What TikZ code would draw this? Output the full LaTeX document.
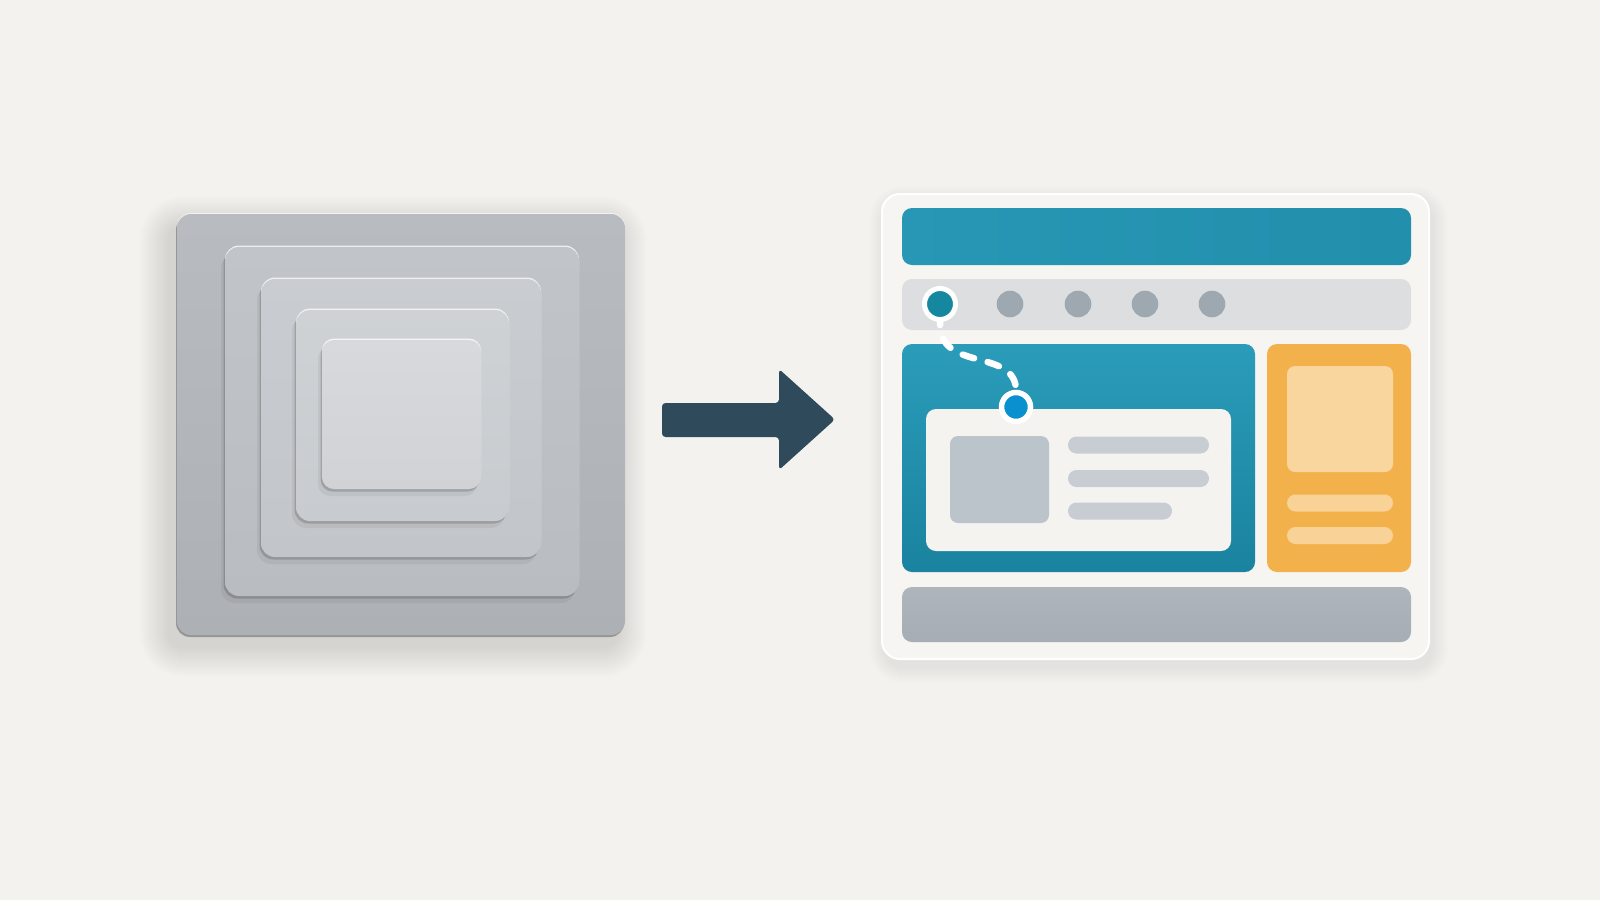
\documentclass[tikz,border=0pt]{standalone}
\usetikzlibrary{shadows}
\definecolor{bgc}{HTML}{F3F2EE}
\definecolor{s1}{HTML}{B8BCC1}
\definecolor{s1b}{HTML}{ADB1B6}
\definecolor{s2}{HTML}{C1C4C8}
\definecolor{s2b}{HTML}{B9BDC1}
\definecolor{s3}{HTML}{C9CCD0}
\definecolor{s3b}{HTML}{C2C5C9}
\definecolor{s4}{HTML}{CFD2D5}
\definecolor{s4b}{HTML}{C8CBCF}
\definecolor{s5}{HTML}{D7D9DC}
\definecolor{s5b}{HTML}{D0D2D5}
\definecolor{arrowc}{HTML}{2F4B5B}
\definecolor{panelc}{HTML}{F6F5F2}
\definecolor{teala}{HTML}{2A9CBA}
\definecolor{tealb}{HTML}{1A839F}
\definecolor{hdra}{HTML}{2797B5}
\definecolor{hdrb}{HTML}{228FAC}
\definecolor{navc}{HTML}{DCDEE0}
\definecolor{dotc}{HTML}{9DA8B0}
\definecolor{dot1c}{HTML}{15879F}
\definecolor{dot2c}{HTML}{0A8FCF}
\definecolor{orangec}{HTML}{F2B14B}
\definecolor{olightc}{HTML}{FAD69F}
\definecolor{olinec}{HTML}{F8D296}
\definecolor{cardc}{HTML}{F4F3F0}
\definecolor{imgc}{HTML}{BCC4CB}
\definecolor{linec}{HTML}{C7CDD3}
\definecolor{foota}{HTML}{AEB5BC}
\definecolor{footb}{HTML}{A5ADB5}
\begin{document}
\begin{tikzpicture}[x=1pt,y=-1pt,
  box/.style={rectangle, inner sep=0pt, outer sep=0pt, anchor=north west},
  layer/.style={box, rounded corners=14pt,
    general shadow={fill=black, opacity=.05, shadow xshift=-4pt, shadow yshift=-7pt},
    general shadow={fill=black, opacity=.16, shadow xshift=-1.5pt, shadow yshift=-2.5pt},
    general shadow={fill=white, opacity=.75, shadow yshift=1.5pt}},
  ui/.style={box, rounded corners=10pt},
  pill/.style={box, rounded corners=8.5pt, minimum height=17pt},
  navdot/.style={circle, inner sep=0pt, minimum size=26.6pt, fill=dotc},
  ringdot/.style={circle, inner sep=0pt, draw=white, general shadow={fill=black, opacity=.12, shadow yshift=-1.5pt}},
  pathdash/.style={draw=white, line width=6.5pt, line cap=round, dash pattern=on 12pt off 14pt, dash phase=9pt}
]
\fill[bgc] (0,0) rectangle (1600,900);
\useasboundingbox (0,0) rectangle (1600,900);

% soft shadows
\foreach \i [evaluate=\i as \r using 14+\i] in {1,...,30}
  \fill[black, opacity=.0055, rounded corners=\r pt] (177-8-\i, 214+12-\i) rectangle (625-8+\i, 635+12+\i);
\foreach \i [evaluate=\i as \r using 18+\i] in {1,...,16}
  \fill[black, opacity=.005, rounded corners=\r pt] (882+3-\i, 194+8-\i) rectangle (1429+3+\i, 659+8+\i);

% left stack
\node[box, rounded corners=14pt, top color=s1, bottom color=s1b, minimum width=448pt, minimum height=421pt,
  general shadow={fill=black!70, opacity=.45, shadow yshift=-2pt, shadow xshift=-1pt},
  general shadow={fill=white, opacity=.6, shadow yshift=1pt}] (L1) at (177,214) {};
\node[layer, top color=s2, bottom color=s2b, minimum width=354pt, minimum height=349pt] (L2) at (225,247) {};
\node[layer, top color=s3, bottom color=s3b, minimum width=280pt, minimum height=278pt] (L3) at (261,279) {};
\node[layer, top color=s4, bottom color=s4b, minimum width=213pt, minimum height=211pt] (L4) at (296,310) {};
\node[layer, rounded corners=12pt, top color=s5, bottom color=s5b, minimum width=159pt, minimum height=149pt] (L5) at (322,340) {};

% arrow
\coordinate (A0) at (662,403);
\coordinate (A1) at (779,403);
\coordinate (A2) at (779,369);
\coordinate (A3) at (835,419.5);
\coordinate (A4) at (779,470);
\coordinate (A5) at (779,437);
\coordinate (A6) at (662,437);
\fill[arrowc, rounded corners=3.5pt] (A0) -- (A1) -- (A2) -- (A3) -- (A4) -- (A5) -- (A6) -- cycle;

% right panel
\node[box, rounded corners=18pt, fill=panelc, draw=white, line width=2pt, minimum width=547pt, minimum height=465pt] (panel) at (882,194) {};
\node[ui, left color=hdra, right color=hdrb, minimum width=509pt, minimum height=57pt] (hdr) at (902,208) {};
\node[ui, fill=navc, minimum width=509pt, minimum height=51pt] (nav) at (902,279) {};
\node[ui, top color=teala, bottom color=tealb, minimum width=353pt, minimum height=228pt] (main) at (902,344) {};
\node[ui, fill=orangec, minimum width=144pt, minimum height=228pt] (side) at (1267,344) {};
\node[ui, fill=cardc, minimum width=305pt, minimum height=142pt] (card) at (926,409) {};
\node[box, rounded corners=8pt, fill=imgc, minimum width=99pt, minimum height=87pt] (img) at (950,436) {};
\node[pill, fill=linec, minimum width=141pt] (l1) at (1068,436.5) {};
\node[pill, fill=linec, minimum width=141pt] (l2) at (1068,470) {};
\node[pill, fill=linec, minimum width=104pt] (l3) at (1068,502.5) {};
\node[box, rounded corners=8pt, fill=olightc, minimum width=106pt, minimum height=106pt] (oimg) at (1287,366) {};
\node[pill, fill=olinec, minimum width=106pt] (ol1) at (1287,494.5) {};
\node[pill, fill=olinec, minimum width=106pt] (ol2) at (1287,527) {};
\node[ui, top color=foota, bottom color=footb, minimum width=509pt, minimum height=55pt] (foot) at (902,587) {};

% nav dots
\node[navdot] (n2) at (1010,304) {};
\node[navdot] (n3) at (1078,304) {};
\node[navdot] (n4) at (1145,304) {};
\node[navdot] (n5) at (1212,304) {};
\node[ringdot, fill=dot1c, line width=5pt, minimum size=31pt] (d1) at (940,304) {};

% connector
\draw[pathdash] (d1.south) .. controls (938,372) and (1012,348) .. (1016,388);
\node[ringdot, fill=dot2c, line width=5.5pt, minimum size=29pt] (d2) at (1016,407) {};
\end{tikzpicture}
\end{document}
